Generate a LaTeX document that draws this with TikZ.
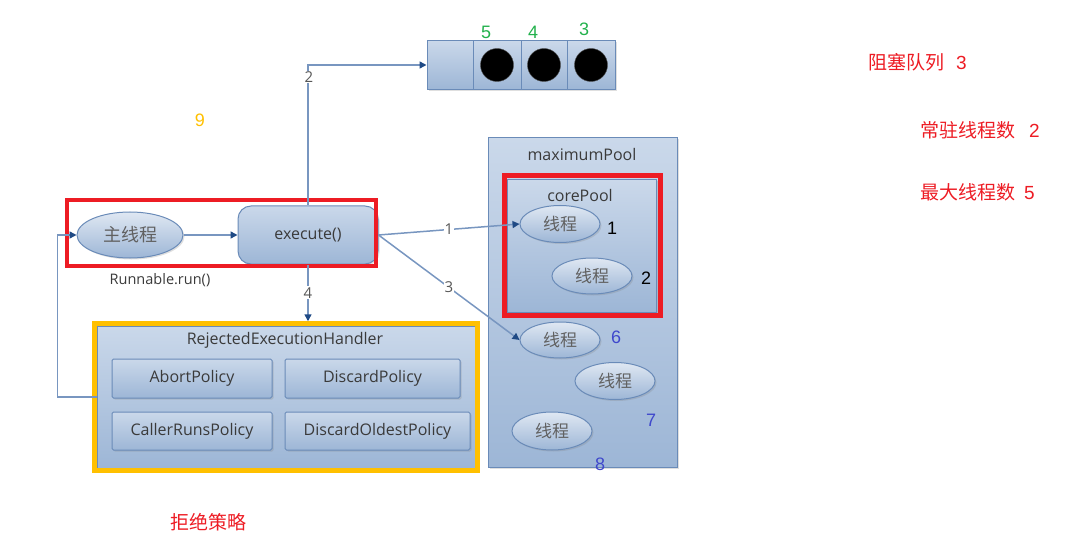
\documentclass[tikz,border=0pt]{standalone}
\usepackage{fontspec}
\setmainfont{Open Sans}
\newfontfamily\cjk{Noto Sans CJK SC}
\newfontfamily\arial{Liberation Sans}
\usetikzlibrary{arrows.meta,shapes.geometric,shadows}
\definecolor{boxtop}{HTML}{CAD8EA}
\definecolor{boxbot}{HTML}{9DB6D6}
\definecolor{boxline}{HTML}{6A8BB8}
\definecolor{connc}{HTML}{7896C0}
\definecolor{tipc}{HTML}{1F4A85}
\definecolor{txt}{HTML}{3A3A3A}
\definecolor{redm}{HTML}{ED1C24}
\definecolor{yelm}{HTML}{FFC000}
\definecolor{grn}{HTML}{22B14C}
\definecolor{blu}{HTML}{3F48CC}
\tikzset{
  pbox/.style={draw=boxline, line width=1pt, top color=boxtop, bottom color=boxbot,
    rounded corners=1.5pt, inner sep=0pt, text=txt, font=\fontsize{16}{16}\selectfont,
    drop shadow={opacity=0.25, shadow xshift=1.5pt, shadow yshift=-1.5pt}},
  thr/.style={ellipse, draw=boxline, line width=1pt, top color=boxtop!60!white, bottom color=boxbot,
    minimum width=80pt, minimum height=37pt, inner sep=0pt, text=txt!80!white,
    font=\cjk\fontsize{17}{17}\selectfont,
    drop shadow={opacity=0.25, shadow xshift=1.5pt, shadow yshift=-1.5pt}},
  conn/.style={draw=connc, line width=1.5pt, -{Triangle[length=7pt,width=7pt,color=tipc]}},
  clabel/.style={fill=white, inner sep=1pt, text=txt!85!white, font=\fontsize{15}{15}\selectfont},
  hl/.style={draw=#1, line width=4.5pt, fill=none, inner sep=0pt},
  title/.style={text=txt, font=\fontsize{16}{16}\selectfont},
  rednote/.style={text=redm, anchor=west, inner sep=0pt, font=\cjk\fontsize{19}{19}\selectfont},
  num/.style={inner sep=0pt, font=\arial\fontsize{18}{18}\selectfont, text=#1},
  ball/.style={circle, fill=black, draw=black!70, minimum size=33pt, inner sep=0pt}
}
\begin{document}
\begin{tikzpicture}[x=1pt,y=-1pt]
\useasboundingbox (0,0) rectangle (1073,548);

% blocking queue
\node[pbox, rounded corners=0pt, minimum width=46pt, minimum height=49pt] (cell0) at (450,65) {};
\node[pbox, rounded corners=0pt, minimum width=48pt, minimum height=49pt] (cell1) at (497,65) {};
\node[pbox, rounded corners=0pt, minimum width=46pt, minimum height=49pt] (cell2) at (544,65) {};
\node[pbox, rounded corners=0pt, minimum width=48pt, minimum height=49pt] (cell3) at (591,65) {};
\node[ball] (b1) at (cell1) {};
\node[ball] (b2) at (cell2) {};
\node[ball] (b3) at (cell3) {};
\node[num=grn] (g5) at (486,32) {5};
\node[num=grn] (g4) at (533,32) {4};
\node[num=grn] (g3) at (584,29) {3};

% main thread and execute
\node[thr, minimum width=106pt, minimum height=46pt, font=\cjk\fontsize{18}{18}\selectfont] (main) at (130,235) {主线程};
\node[pbox, rounded corners=13pt, minimum width=140pt, minimum height=58pt] (exec) at (308,235) {execute()};
\node[title, font=\fontsize{14.5}{14.5}\selectfont] (run) at (160,280) {Runnable.run()};
\draw[conn] (main.east) -- (exec.west);

% maximum pool
\node[pbox, rounded corners=0pt, minimum width=189pt, minimum height=329pt] (maxp) at (582.5,302.5) {};
\node[title] (maxt) at (582,155) {maximumPool};
\node[pbox, rounded corners=0pt, minimum width=149pt, minimum height=132pt] (corep) at (581.5,246) {};
\node[title] (coret) at (580,196) {corePool};
\node[thr] (t1) at (560,224) {线程};
\node[thr, minimum height=36pt] (t2) at (592,276) {线程};
\node[thr, minimum height=36pt] (t6) at (560,340) {线程};
\node[thr] (t7) at (615,381) {线程};
\node[thr, minimum height=38pt] (t8) at (552,431) {线程};
\node[num=black] (n1) at (612,228) {1};
\node[num=black] (n2) at (646,278) {2};
\node[num=blu] (n6) at (616,337) {6};
\node[num=blu] (n7) at (651,420) {7};
\node[num=blu] (n8) at (600,464) {8};

% rejected handler
\node[pbox, rounded corners=0pt, minimum width=378pt, minimum height=142pt] (hand) at (286,397) {};
\node[title] (handt) at (285,340) {RejectedExecutionHandler};
\node[pbox, minimum width=160pt, minimum height=39pt] (abort) at (192,378.5) {AbortPolicy};
\node[pbox, minimum width=175pt, minimum height=39pt] (disc) at (372.5,378.5) {DiscardPolicy};
\node[pbox, minimum width=160pt, minimum height=38pt] (caller) at (192,431) {CallerRunsPolicy};
\node[pbox, minimum width=185pt, minimum height=38pt] (oldest) at (377.5,431) {DiscardOldestPolicy};

% highlight frames
\node[hl=redm, minimum width=309pt, minimum height=66pt] (rb1) at (221.5,233) {};
\node[hl=redm, minimum width=156pt, minimum height=140pt] (rb2) at (582.5,245.5) {};
\node[hl=yelm, minimum width=383pt, minimum height=147pt] (yb) at (286,397) {};

% connectors
\draw[conn] (exec.north) |- (cell0.west);
\node[clabel] (l2) at (309,77) {2};
\draw[conn] (exec.east) -- node[clabel, pos=0.5] (l1) {1} (t1.west);
\draw[conn] (exec.east) -- node[clabel, pos=0.5] (l3) {3} (t6.west);
\draw[conn] (exec.south) -- node[clabel, pos=0.5] (l4) {4} (exec.south |- yb.north);
\draw[conn] (hand.west) -- ++(-39,0) |- (main.west);

% notes
\node[num=yelm] (n9) at (200,120) {9};
\node[rednote] (q) at (868,62) {阻塞队列\hspace{12pt}{\arial 3}};
\node[rednote] (c) at (920,130) {常驻线程数\hspace{14pt}{\arial 2}};
\node[rednote] (m) at (920,192) {最大线程数\hspace{9pt}{\arial 5}};
\node[rednote] (r) at (170,522) {拒绝策略};
\end{tikzpicture}
\end{document}
